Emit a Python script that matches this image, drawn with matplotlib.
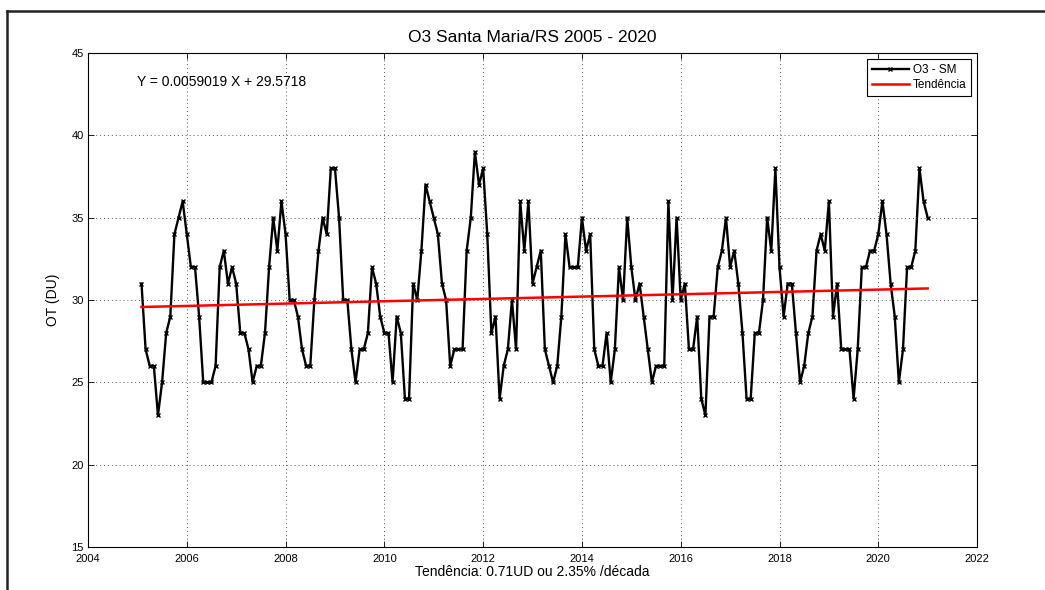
import numpy as np
import matplotlib
matplotlib.use("Agg")
import matplotlib.pyplot as plt
from matplotlib.lines import Line2D

plt.rcParams['font.family'] = ['Liberation Sans Narrow', 'Liberation Sans', 'DejaVu Sans']

# monthly ozone values, Jan 2005 .. Dec 2020
o3_2005 = [31, 27, 26, 26, 23, 25, 28, 29, 34, 35, 36, 34]
o3_2006 = [32, 32, 29, 25, 25, 25, 26, 32, 33, 31, 32, 31]
o3_2007 = [28, 28, 27, 25, 26, 26, 28, 32, 35, 33, 36, 34]
o3_2008 = [30, 30, 29, 27, 26, 26, 30, 33, 35, 34, 38, 38]
o3_2009 = [35, 30, 30, 27, 25, 27, 27, 28, 32, 31, 29, 28]
o3_2010 = [28, 25, 29, 28, 24, 24, 31, 30, 33, 37, 36, 35]
o3_2011 = [34, 31, 30, 26, 27, 27, 27, 33, 35, 39, 37, 38]
o3_2012 = [34, 28, 29, 24, 26, 27, 30, 27, 36, 33, 36, 31]
o3_2013 = [32, 33, 27, 26, 25, 26, 29, 34, 32, 32, 32, 35]
o3_2014 = [33, 34, 27, 26, 26, 28, 25, 27, 32, 30, 35, 32]
o3_2015 = [30, 31, 29, 27, 25, 26, 26, 26, 36, 30, 35, 30]
o3_2016 = [31, 27, 27, 29, 24, 23, 29, 29, 32, 33, 35, 32]
o3_2017 = [33, 31, 28, 24, 24, 28, 28, 30, 35, 33, 38, 32]
o3_2018 = [29, 31, 31, 28, 25, 26, 28, 29, 33, 34, 33, 36]
o3_2019 = [29, 31, 27, 27, 27, 24, 27, 32, 32, 33, 33, 34]
o3_2020 = [36, 34, 31, 29, 25, 27, 32, 32, 33, 38, 36, 35]

o3 = np.array(o3_2005 + o3_2006 + o3_2007 + o3_2008 + o3_2009 + o3_2010 + o3_2011 + o3_2012
              + o3_2013 + o3_2014 + o3_2015 + o3_2016 + o3_2017 + o3_2018 + o3_2019 + o3_2020)

trend_slope = 0.0059019
trend_intercept = 29.5718

xticks = [2004, 2006, 2008, 2010, 2012, 2014, 2016, 2018, 2020, 2022]
yticks = [15, 20, 25, 30, 35, 40, 45]


def main():
	n = len(o3)
	month_idx = np.arange(1, n + 1)
	t = 2005 + month_idx / 12.0
	trend = trend_slope * month_idx + trend_intercept

	fig = plt.figure(figsize=(10.45, 5.9), dpi=100)
	ax = fig.add_axes([0.0842, 0.0729, 0.8508, 0.8371])

	ax.plot(t, o3, color="k", linewidth=1.7, marker="x", markersize=3,
			markeredgewidth=1.0, label="O3 - SM")
	ax.plot(t, trend, color="r", linewidth=1.8, label="Tendência")

	ax.set_xlim(2004, 2022)
	ax.set_ylim(15, 45)
	ax.set_xticks(xticks)
	ax.set_yticks(yticks)
	ax.tick_params(direction="in", top=True, right=True, labelsize=8, length=4, width=0.6)
	ax.tick_params(axis="x", pad=5)
	ax.tick_params(axis="y", pad=3)
	ax.grid(True, linestyle=(0, (1, 3)), color="#555555", linewidth=0.7)
	for s in ax.spines.values():
		s.set_linewidth(0.8)

	ax.set_title("O3 Santa Maria/RS 2005 - 2020", fontsize=12.5, pad=8)
	ax.set_ylabel("OT (DU)", fontsize=10, labelpad=8)
	ax.set_xlabel("Tendência: 0.71UD ou 2.35% /década", fontsize=10, labelpad=1)

	ax.text(2005.0, 43.25, "Y = 0.0059019 X + 29.5718", fontsize=10, va="center")

	leg = ax.legend(loc="upper right", fontsize=8.5, fancybox=False, framealpha=1,
					edgecolor="k", borderaxespad=0.5, handlelength=3.2, handletextpad=0.3,
					borderpad=0.4, labelspacing=0.3)
	leg.get_frame().set_linewidth(0.8)

	# window frame around the figure
	fig.add_artist(Line2D([7 / 1045, 7 / 1045], [0, 1 - 11 / 590], color="#222222", linewidth=1.8))
	fig.add_artist(Line2D([7 / 1045, 1], [1 - 11 / 590, 1 - 11 / 590], color="#222222", linewidth=1.8))

	fig.savefig("out.png", dpi=100)


if __name__ == "__main__":
	main()
